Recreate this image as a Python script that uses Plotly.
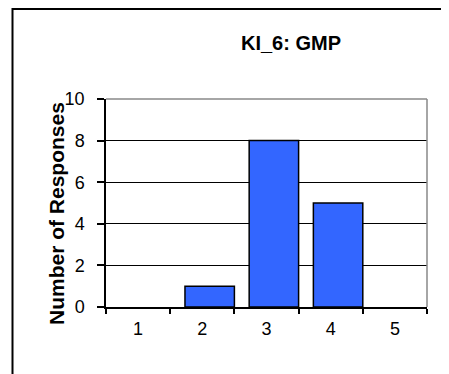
import plotly.graph_objects as go

categories = ["1", "2", "3", "4", "5"]
responses = [0, 1, 8, 5, 0]
y_ticks = [0, 2, 4, 6, 8, 10]
title_text = "KI_6: GMP"
y_title = "Number of Responses"

# the page body adds an 8px offset, so layout positions are given in screen px minus 8
OFF = 8
W, H = 449, 374
SL, ST, SR, SB = 106, 99, 427, 307          # plot area in screen pixels
L, T = SL - OFF, ST - OFF
pw, ph = SR - SL, SB - ST
R, B = W - L - pw, H - T - ph

def px_x(sx):
    return (sx - OFF - L) / pw

def px_y(sy):
    return (T + ph - (sy - OFF)) / ph

FONT = "Liberation Sans, Arial, sans-serif"

fig = go.Figure()
fig.add_trace(go.Bar(
    x=categories, y=responses,
    width=0.77, offset=-0.27,
    marker=dict(color="#3366FF",
                line=dict(color="black", width=[1.5 if v > 0 else 0 for v in responses])),
))

fig.update_layout(
    width=W, height=H,
    margin=dict(l=L, r=R, t=T, b=B),
    paper_bgcolor="white", plot_bgcolor="white",
    showlegend=False,
    font=dict(family=FONT, size=18, color="black"),
    xaxis=dict(
        type="category", tickson="boundaries", ticks="outside", ticklen=5,
        tickcolor="black", tickwidth=1.5, showline=True, linecolor="black",
        linewidth=1.5, showgrid=False, tickfont=dict(size=18),
        range=[-0.5, 4.5], ticklabelstandoff=5,
    ),
    yaxis=dict(
        range=[0, 10], tickvals=y_ticks, ticks="outside", ticklen=7,
        tickcolor="black", tickwidth=1.5, showline=True, linecolor="black",
        linewidth=1.5, showgrid=True, gridcolor="black", gridwidth=1.2,
        zeroline=False, tickfont=dict(size=18), ticklabelstandoff=9,
    ),
)

# plot-area border (gray, top and right)
fig.add_shape(type="line", xref="paper", yref="paper", x0=0, x1=1, y0=1, y1=1,
              line=dict(color="#888888", width=1.5))
fig.add_shape(type="line", xref="paper", yref="paper", x0=1, x1=1, y0=0, y1=1,
              line=dict(color="#888888", width=1.5))

# outer chart frame (extends beyond the visible area on right and bottom)
fig.add_shape(type="rect", xref="paper", yref="paper",
              x0=px_x(12.5), x1=px_x(480), y0=px_y(400), y1=px_y(9),
              line=dict(color="black", width=2), layer="below")

fig.add_annotation(text="<b>" + title_text + "</b>", xref="paper", yref="paper",
                   x=px_x(291), y=px_y(43), xanchor="center", yanchor="middle",
                   showarrow=False, font=dict(family=FONT, size=20, color="black"))
fig.add_annotation(text="<b>" + y_title + "</b>", xref="paper", yref="paper",
                   x=px_x(56), y=px_y(214), xanchor="center", yanchor="middle",
                   showarrow=False, textangle=-90,
                   font=dict(family=FONT, size=21, color="black"))

fig.write_html("out.html")
